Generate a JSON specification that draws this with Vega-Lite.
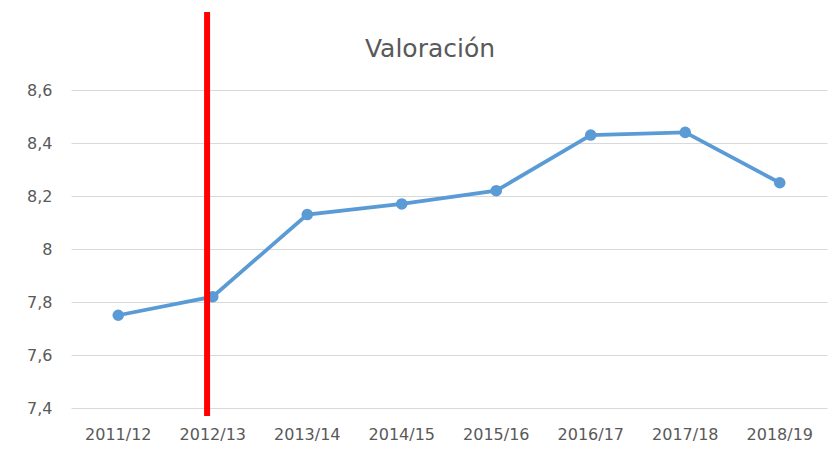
{
  "$schema": "https://vega.github.io/schema/vega-lite/v6.json",
  "width": 756,
  "height": 318,
  "autosize": "none",
  "padding": {"left": 71, "top": 90, "right": 13, "bottom": 41},
  "background": "white",
  "title": {"text": "Valoración", "font": "DejaVu Sans", "fontSize": 25, "fontWeight": "normal", "color": "#595959", "offset": -53, "dx": -19, "anchor": "middle"},
  "config": {"view": {"stroke": null}},
  "datasets": {
    "serie": [
      {"curso": "2011/12", "valor": 7.75},
      {"curso": "2012/13", "valor": 7.82},
      {"curso": "2013/14", "valor": 8.13},
      {"curso": "2014/15", "valor": 8.17},
      {"curso": "2015/16", "valor": 8.22},
      {"curso": "2016/17", "valor": 8.43},
      {"curso": "2017/18", "valor": 8.44},
      {"curso": "2018/19", "valor": 8.25}
    ],
    "marca": [
      {"curso": "2012/13", "desde": 7.37, "hasta": 8.894}
    ]
  },
  "layer": [
    {
      "data": {"name": "serie"},
      "mark": {"type": "line", "color": "#5b9bd5", "strokeWidth": 3.75},
      "encoding": {
        "x": {"field": "curso", "type": "nominal", "sort": null,
          "scale": {"type": "band", "paddingInner": 0, "paddingOuter": 0},
          "axis": {"title": null, "ticks": false, "domain": false, "grid": false, "labelAngle": 0, "labelPadding": 18, "labelFont": "DejaVu Sans", "labelFontSize": 16, "labelColor": "#595959"}},
        "y": {"field": "valor", "type": "quantitative",
          "scale": {"domain": [7.4, 8.6], "zero": false, "nice": false},
          "axis": {"title": null, "ticks": false, "domain": false, "values": [7.4, 7.6, 7.8, 8, 8.2, 8.4, 8.6], "labelExpr": "replace(toString(datum.value), '.', ',')", "labelPadding": 19, "labelFont": "DejaVu Sans", "labelFontSize": 16, "labelColor": "#595959", "gridColor": "#d9d9d9", "gridWidth": 1}}
      }
    },
    {
      "data": {"name": "serie"},
      "mark": {"type": "point", "filled": true, "opacity": 1, "size": 135, "color": "#5b9bd5"},
      "encoding": {
        "x": {"field": "curso", "type": "nominal", "sort": null},
        "y": {"field": "valor", "type": "quantitative"}
      }
    },
    {
      "data": {"name": "marca"},
      "mark": {"type": "rule", "color": "#ff0000", "strokeWidth": 6},
      "encoding": {
        "x": {"field": "curso", "type": "nominal", "bandPosition": 0.44},
        "y": {"field": "desde", "type": "quantitative"},
        "y2": {"field": "hasta"}
      }
    }
  ]
}
